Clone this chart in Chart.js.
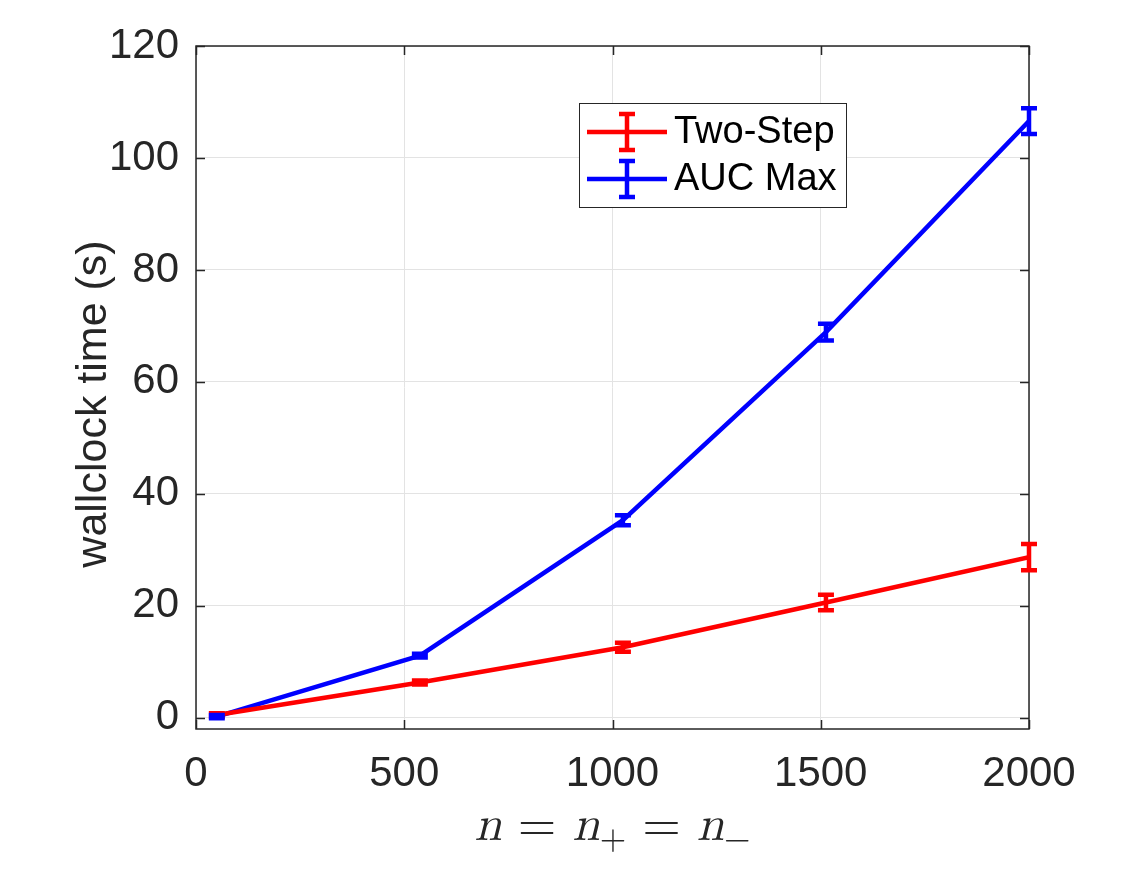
<!DOCTYPE html>
<html>
<head>
<meta charset="utf-8">
<script src="https://cdn.jsdelivr.net/npm/chart.js@4.4.0/dist/chart.umd.min.js"></script>
<style>
html, body { margin: 0; padding: 0; background: #fff; }
#wrap { width: 1135px; height: 876px; }
</style>
</head>
<body>
<div id="wrap"><canvas id="chart"></canvas></div>
<script>
// values
var nValues = [50, 537.5, 1025, 1512.5, 2000];
var twoStepTime = [0.5, 6.3, 12.6, 20.6, 28.7];
var twoStepErr = [0.3, 0.35, 0.8, 1.4, 2.35];
var aucTime = [0.2, 11.1, 35.3, 68.9, 106.6];
var aucErr = [0.3, 0.35, 0.9, 1.5, 2.3];
var xTicks = [0, 500, 1000, 1500, 2000];
var yTicks = [0, 20, 40, 60, 80, 100, 120];
var seriesNames = ['Two-Step', 'AUC Max'];
var seriesColors = ['#ff0000', '#0000ff'];

var axisColor = '#262626';
var sansFont = '"Liberation Sans", Arial, Helvetica, sans-serif';
var serifFont = '"Latin Modern Math", "Liberation Serif", "DejaVu Serif", serif';

function points(xs, ys) {
    return xs.map(function(x, i) { return { x: x, y: ys[i] }; });
}

var errPlugin = {
    id: 'errPlugin',
    beforeDatasetsDraw: function(chart) {
        var ctx = chart.ctx, a = chart.chartArea;
        var xs = chart.scales.x, ys = chart.scales.y;
        var tl = 9;
        ctx.save();
        ctx.strokeStyle = axisColor;
        ctx.lineWidth = 1.5;
        ctx.beginPath();
        xTicks.forEach(function(v) {
            var px = Math.round(xs.getPixelForValue(v)) + 0.5;
            ctx.moveTo(px, a.bottom); ctx.lineTo(px, a.bottom - tl);
            ctx.moveTo(px, a.top); ctx.lineTo(px, a.top + tl);
        });
        yTicks.forEach(function(v) {
            var py = Math.round(ys.getPixelForValue(v)) + 0.5;
            ctx.moveTo(a.left, py); ctx.lineTo(a.left + tl, py);
            ctx.moveTo(a.right, py); ctx.lineTo(a.right - tl, py);
        });
        ctx.stroke();
        ctx.strokeRect(a.left, a.top, a.right - a.left, a.bottom - a.top);
        ctx.restore();
    },
    afterDatasetsDraw: function(chart) {
        var ctx = chart.ctx;
        var xs = chart.scales.x, ys = chart.scales.y;
        var errs = [twoStepErr, aucErr];
        var vals = [twoStepTime, aucTime];
        ctx.save();
        ctx.lineWidth = 4.5;
        ctx.lineCap = 'butt';
        for (var s = 0; s < 2; s++) {
            ctx.strokeStyle = seriesColors[s];
            for (var i = 0; i < nValues.length; i++) {
                var px = xs.getPixelForValue(nValues[i]);
                var top = ys.getPixelForValue(vals[s][i] + errs[s][i]);
                var bot = ys.getPixelForValue(vals[s][i] - errs[s][i]);
                ctx.beginPath();
                ctx.moveTo(px, top - 2); ctx.lineTo(px, bot + 2);
                ctx.moveTo(px - 8, top); ctx.lineTo(px + 8, top);
                ctx.moveTo(px - 8, bot); ctx.lineTo(px + 8, bot);
                ctx.stroke();
            }
        }
        ctx.restore();
    },
    afterDraw: function(chart) {
        var ctx = chart.ctx, a = chart.chartArea;
        ctx.save();

        // legend
        var lx = 579.5, ly = 103.5, lw = 267, lh = 104;
        ctx.fillStyle = '#fff';
        ctx.fillRect(lx, ly, lw, lh);
        ctx.strokeStyle = axisColor;
        ctx.lineWidth = 1;
        ctx.strokeRect(lx, ly, lw, lh);
        var rows = [132, 179];
        for (var s = 0; s < 2; s++) {
            var cy = rows[s];
            ctx.strokeStyle = seriesColors[s];
            ctx.lineWidth = 4.5;
            ctx.beginPath();
            ctx.moveTo(587, cy); ctx.lineTo(667, cy);
            ctx.moveTo(627, cy - 19); ctx.lineTo(627, cy + 19);
            ctx.moveTo(619, cy - 18); ctx.lineTo(635, cy - 18);
            ctx.moveTo(619, cy + 18); ctx.lineTo(635, cy + 18);
            ctx.stroke();
            ctx.fillStyle = '#000';
            ctx.font = '38px ' + sansFont;
            ctx.textAlign = 'left';
            ctx.textBaseline = 'middle';
            ctx.fillText(seriesNames[s], 674, cy + 1);
        }

        // y axis title
        ctx.fillStyle = axisColor;
        ctx.font = '43px ' + sansFont;
        ctx.textAlign = 'center';
        ctx.textBaseline = 'middle';
        ctx.translate(94, 404);
        ctx.rotate(-Math.PI / 2);
        ctx.fillText('wallclock time (s)', 0, 0);
        ctx.setTransform(1, 0, 0, 1, 0, 0);

        // x axis title: n = n_+ = n_-
        var base = 840;
        var parts = [
            { t: 'n', f: 'italic 49px ' + serifFont, dy: 0 },
            { t: ' = ', f: '49px ' + serifFont, dy: 0 },
            { t: 'n', f: 'italic 49px ' + serifFont, dy: 0 },
            { t: '+', f: '34px ' + serifFont, dy: 9 },
            { t: ' = ', f: '49px ' + serifFont, dy: 0 },
            { t: 'n', f: 'italic 49px ' + serifFont, dy: 0 },
            { t: '\u2212', f: '34px ' + serifFont, dy: 9 }
        ];
        var total = 0;
        parts.forEach(function(p) { ctx.font = p.f; p.w = ctx.measureText(p.t).width; total += p.w; });
        var x0 = (a.left + a.right) / 2 - total / 2;
        ctx.textAlign = 'left';
        ctx.textBaseline = 'alphabetic';
        ctx.fillStyle = axisColor;
        parts.forEach(function(p) {
            ctx.font = p.f;
            ctx.fillText(p.t, x0, base + p.dy);
            x0 += p.w;
        });
        ctx.restore();
    }
};

new Chart(document.getElementById('chart'), {
    type: 'line',
    data: {
        datasets: [{
            label: seriesNames[0],
            data: points(nValues, twoStepTime),
            borderColor: seriesColors[0],
            borderWidth: 4.5,
            pointRadius: 0,
            fill: false,
            tension: 0
        }, {
            label: seriesNames[1],
            data: points(nValues, aucTime),
            borderColor: seriesColors[1],
            borderWidth: 4.5,
            pointRadius: 0,
            fill: false,
            tension: 0
        }]
    },
    options: {
        responsive: true,
        maintainAspectRatio: false,
        animation: false,
        devicePixelRatio: 1,
        layout: { padding: { top: 46, right: 106, left: 0, bottom: 0 } },
        plugins: {
            legend: { display: false },
            tooltip: { enabled: false }
        },
        scales: {
            x: {
                type: 'linear',
                min: 0,
                max: 2000,
                afterBuildTicks: function(scale) {
                    scale.ticks = xTicks.map(function(v) { return { value: v }; });
                },
                afterFit: function(scale) { scale.height = 147; },
                grid: { color: '#e3e3e3', lineWidth: 1, drawTicks: false },
                border: { display: false },
                ticks: {
                    color: axisColor,
                    font: { family: sansFont, size: 42 },
                    padding: 20,
                    maxRotation: 0,
                    callback: function(v) { return String(v); }
                }
            },
            y: {
                type: 'linear',
                min: -2,
                max: 120,
                afterBuildTicks: function(scale) {
                    scale.ticks = yTicks.map(function(v) { return { value: v }; });
                },
                afterFit: function(scale) { scale.width = 196; },
                grid: { color: '#e3e3e3', lineWidth: 1, drawTicks: false },
                border: { display: false },
                ticks: {
                    color: axisColor,
                    font: { family: sansFont, size: 42 },
                    padding: 17,
                    callback: function(v) { return String(v); }
                }
            }
        }
    },
    plugins: [errPlugin]
});
</script>
</body>
</html>
